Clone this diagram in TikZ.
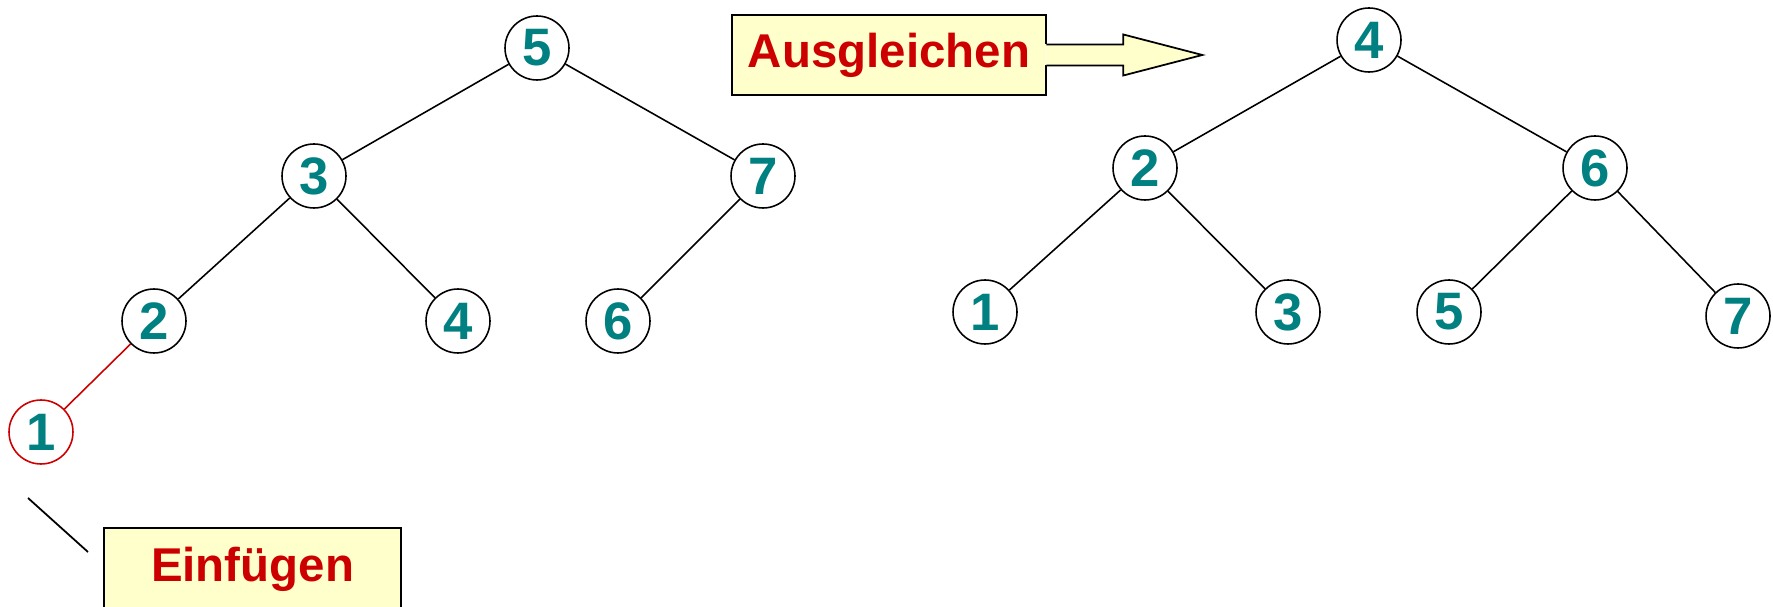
\documentclass[tikz,border=0pt]{standalone}
\usepackage{fontspec}
\setmainfont{Liberation Sans}
\usetikzlibrary{positioning}
\definecolor{keyteal}{RGB}{0,128,128}
\definecolor{insertred}{RGB}{204,0,0}
\definecolor{notefill}{RGB}{255,255,204}

\begin{document}
\begin{tikzpicture}[x=0.02cm, y=-0.02cm,
    keynode/.style={circle, draw=black, line width=0.9pt, fill=white, minimum size=1.28cm,
                 inner sep=0pt, text=keyteal, font=\fontsize{30}{30}\selectfont\bfseries},
    newnode/.style={keynode, draw=insertred},
    treeline/.style={line width=0.9pt, black},
    notebox/.style={rectangle, fill=notefill, inner sep=0pt, text=insertred,
                 font=\fontsize{27}{27}\selectfont\bfseries},
    noteline/.style={line width=1pt, black}
]
\useasboundingbox (0,0) rectangle (1773,607);

% tree after inserting 1
\node[keynode] (a5) at (537,48)  {5};
\node[keynode] (a3) at (314,176) {3};
\node[keynode] (a7) at (763,176) {7};
\node[keynode] (a2) at (154,321) {2};
\node[keynode] (a4) at (458,321) {4};
\node[keynode] (a6) at (618,321) {6};
\node[newnode] (a1) at (41,432)  {1};

\draw[treeline] (a5) -- (a3);
\draw[treeline] (a5) -- (a7);
\draw[treeline] (a3) -- (a2);
\draw[treeline] (a3) -- (a4);
\draw[treeline] (a7) -- (a6);
\draw[treeline, insertred] (a2) -- (a1);

% balanced tree
\node[keynode] (b4) at (1369,40)  {4};
\node[keynode] (b2) at (1145,168) {2};
\node[keynode] (b6) at (1595,168) {6};
\node[keynode] (b1) at (985,312)  {1};
\node[keynode] (b3) at (1288,312) {3};
\node[keynode] (b5) at (1449,312) {5};
\node[keynode] (b7) at (1738,316) {7};

\draw[treeline] (b4) -- (b2);
\draw[treeline] (b4) -- (b6);
\draw[treeline] (b2) -- (b1);
\draw[treeline] (b2) -- (b3);
\draw[treeline] (b6) -- (b5);
\draw[treeline] (b6) -- (b7);

% callouts
\node[notebox, minimum width=6.28cm, minimum height=1.6cm] (bal) at (889,55) {Ausgleichen};
\draw[noteline] ([shift={(0,-10.5)}]bal.east) -- (bal.north east) -- (bal.north west)
    -- (bal.south west) -- (bal.south east) -- ([shift={(0,10.5)}]bal.east);
\filldraw[noteline, fill=notefill] ([shift={(0,-10.5)}]bal.east) -- ++(77,0) -- ++(0,-10)
    -- ++(79,20.5) -- ++(-79,20.5) -- ++(0,-10) -- ([shift={(0,10.5)}]bal.east);

\node[notebox, draw=black, line width=1pt, minimum width=5.94cm, minimum height=1.64cm] (ins) at (252.5,569) {Einfügen};
\coordinate (ptrA) at (28,498);
\coordinate (ptrB) at (88,552);
\draw[noteline] (ptrA) -- (ptrB);
\end{tikzpicture}
\end{document}
